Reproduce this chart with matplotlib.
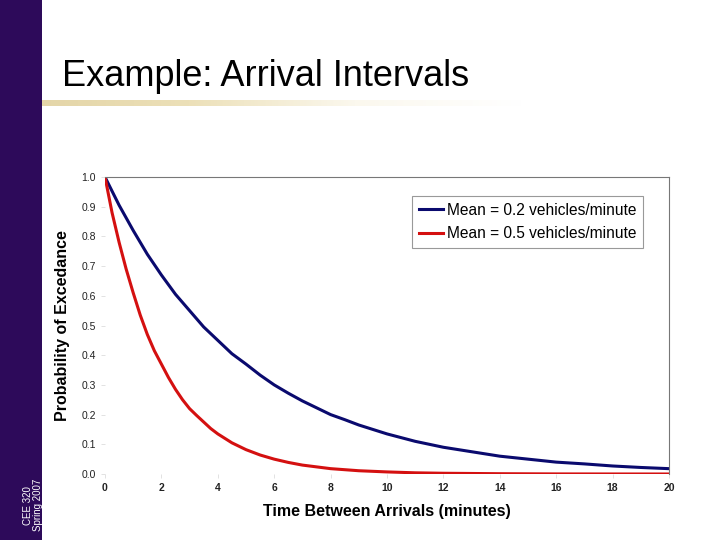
import matplotlib
matplotlib.use("Agg")
import matplotlib.pyplot as plt
import numpy as np
from matplotlib.patches import Rectangle
from matplotlib.colors import LinearSegmentedColormap

plt.rcParams['font.family'] = ['Liberation Sans', 'DejaVu Sans']

# Data
t_blue = [0, 0.5, 1, 1.5, 2, 2.5, 3, 3.5, 4, 4.5, 5, 5.5, 6, 6.5, 7, 7.5, 8, 8.5, 9, 9.5,
          10, 11, 12, 13, 14, 15, 16, 17, 18, 19, 20]
p_blue = [1.0, 0.905, 0.82, 0.74, 0.67, 0.605, 0.55, 0.495, 0.45, 0.405, 0.37, 0.333,
          0.30, 0.272, 0.246, 0.223, 0.20, 0.183, 0.165, 0.15, 0.135,
          0.11, 0.09, 0.075, 0.06, 0.05, 0.04, 0.034, 0.027, 0.022, 0.018]
t_red = [0, 0.25, 0.5, 0.75, 1, 1.25, 1.5, 1.75, 2, 2.25, 2.5, 2.75, 3, 3.25, 3.5, 3.75,
         4, 4.5, 5, 5.5, 6, 6.5, 7, 7.5, 8, 9, 10, 11, 12, 14, 16, 18, 20]
p_red = [1.0, 0.88, 0.78, 0.69, 0.61, 0.535, 0.47, 0.415, 0.37, 0.325, 0.285, 0.25,
         0.22, 0.197, 0.175, 0.153, 0.135, 0.105, 0.082, 0.064, 0.05, 0.039, 0.03,
         0.024, 0.018, 0.011, 0.007, 0.004, 0.0025, 0.001, 0.0003, 0.0001, 0.0]
labels = ["Mean = 0.2 vehicles/minute", "Mean = 0.5 vehicles/minute"]
x_ticks = [0, 2, 4, 6, 8, 10, 12, 14, 16, 18, 20]
y_ticks = [0.0, 0.1, 0.2, 0.3, 0.4, 0.5, 0.6, 0.7, 0.8, 0.9, 1.0]
title = "Example: Arrival Intervals"
xlabel = "Time Between Arrivals (minutes)"
ylabel = "Probability of Excedance"
side_text = "CEE 320\nSpring 2007"

fig = plt.figure(figsize=(7.2, 5.4), dpi=100)
fig.patch.set_facecolor('white')

# purple side bar
fig.patches.append(Rectangle((0, 0), 42/720, 1, transform=fig.transFigure,
                             facecolor='#2d0a5a', edgecolor='none', zorder=0))
fig.text(33/720, 0.016, side_text, rotation=90, color='white', fontsize=7,
         ha='center', va='bottom', linespacing=1.0)

# yellow gradient rule under the title
grad = np.linspace(0, 1, 256).reshape(1, -1)
cmap = LinearSegmentedColormap.from_list('g', ['#e3d4a6', '#ece0b8', '#fbf8ee', '#ffffff'])
axg = fig.add_axes([22/720, 1 - 106/540, 500/720, 6/540])
axg.imshow(grad, aspect='auto', cmap=cmap)
axg.axis('off')

fig.text(62/720, 1 - 76/540, title, fontsize=26, ha='left', va='center', color='black')

ax = fig.add_axes([105/720, 1 - 474/540, 564/720, 297/540])
ax.plot(t_blue, p_blue, color='#0a0a6e', lw=2.2, label=labels[0], solid_joinstyle='round')
ax.plot(t_red, p_red, color='#d41010', lw=2.2, label=labels[1], solid_joinstyle='round')
ax.set_xlim(0, 20)
ax.set_ylim(0, 1.0)
ax.set_xticks(x_ticks)
ax.set_yticks(y_ticks)
ax.set_yticklabels([f"{v:.1f}" for v in y_ticks])
ax.tick_params(axis='both', labelsize=7.5, colors='#dddddd', labelcolor='#222222', length=3, width=0.6)
for lab in ax.get_xticklabels():
    lab.set_fontweight('bold')
ax.spines['left'].set_visible(False)
ax.spines['bottom'].set_visible(False)
ax.spines['top'].set_color('#777777')
ax.spines['right'].set_color('#777777')
ax.spines['top'].set_linewidth(0.8)
ax.spines['right'].set_linewidth(0.8)
ax.set_xlabel(xlabel, fontsize=11.5, fontweight='bold', labelpad=8)
ax.set_ylabel(ylabel, fontsize=11.5, fontweight='bold', labelpad=8)

leg = ax.legend(loc='upper right', bbox_to_anchor=(0.954, 0.937), fontsize=11.2,
                handlelength=1.6, handletextpad=0.2, borderpad=0.45, labelspacing=0.55,
                frameon=True, fancybox=False, framealpha=1, borderaxespad=0)
leg.get_frame().set_edgecolor('#999999')
leg.get_frame().set_linewidth(0.8)

fig.savefig('out.png', dpi=100, facecolor='white')
